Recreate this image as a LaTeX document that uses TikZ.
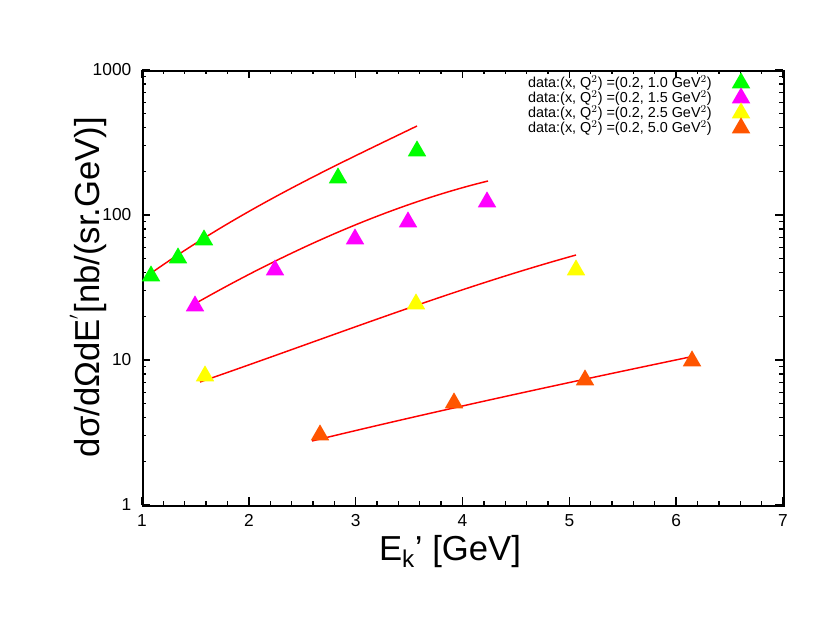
\documentclass[tikz,border=0pt]{standalone}
\usepackage{fontspec}
\setmainfont{Liberation Sans}
\usetikzlibrary{shapes.geometric}
\definecolor{cg}{RGB}{0,255,0}
\definecolor{cm}{RGB}{255,0,255}
\definecolor{cy}{RGB}{255,255,0}
\definecolor{co}{RGB}{255,85,0}
\begin{document}
\begin{tikzpicture}[x=0.75pt,y=-0.75pt,
  fitline/.style={red,line width=1.1pt},
  tri/.style={regular polygon,regular polygon sides=3,inner sep=0pt,minimum size=16pt,draw=none},
  tick/.style={line width=1pt},
  lab/.style={font=\fontsize{13}{13}\selectfont}]
\useasboundingbox (0,0) rectangle (830,642);
% ticks
\foreach \i in {1,...,7}{
  \pgfmathsetmacro\xx{142+(\i-1)*106.83}
  \draw[tick] (\xx,505) -- (\xx,497);
  \draw[tick] (\xx,70) -- (\xx,78);
  \node[lab,anchor=north] (xl\i) at (\xx,510) {\i};
}
\foreach \i in {0,...,29}{
  \pgfmathsetmacro\xx{142+\i*106.83/5}
  \draw[tick] (\xx,505) -- (\xx,501);
  \draw[tick] (\xx,70) -- (\xx,74);
}
\foreach \d/\t in {0/1,1/10,2/100,3/1000}{
  \pgfmathsetmacro\yy{505-145*\d}
  \draw[tick] (142,\yy) -- (150,\yy);
  \draw[tick] (783,\yy) -- (775,\yy);
  \node[lab,anchor=east] (yl\d) at (136,\yy) {\t};
}
\foreach \d in {0,1,2}{
  \foreach \m in {2,...,9}{
    \pgfmathsetmacro\yy{505-145*(\d+ln(\m)/ln(10))}
    \draw[tick] (142,\yy) -- (146,\yy);
    \draw[tick] (783,\yy) -- (779,\yy);
  }
}
\node[draw,line width=1.3pt,minimum width=480.75pt,minimum height=326.25pt,anchor=north west,inner sep=0pt] (frame) at (142,70) {};
% curves
\draw[fitline] (147,276) .. controls (240,210) and (330,168) .. (417,126);
\draw[fitline] (198,302) .. controls (290,250) and (390,205) .. (488,181);
\draw[fitline] (200,382) .. controls (330,337) and (450,290) .. (576,255);
\draw[fitline] (312,441) .. controls (440,410) and (570,382) .. (690,357);
% points
\foreach \p [count=\k] in {(151,276),(178,258),(204,240),(338,178),(417,151)} \node[tri,fill=cg] (g\k) at \p {};
\foreach \p [count=\k] in {(195,306),(275,270),(355,239),(408,222),(487,202)} \node[tri,fill=cm] (m\k) at \p {};
\foreach \p [count=\k] in {(205,376),(416,304),(576,270)} \node[tri,fill=cy] (y\k) at \p {};
\foreach \p [count=\k] in {(320,435),(454,403),(585,380),(692,361)} \node[tri,fill=co] (o\k) at \p {};
% legend
\foreach \c/\q [count=\k] in {cg/1.0,cm/1.5,cy/2.5,co/5.0}{
  \pgfmathsetmacro\yy{68+\k*15}
  \node[anchor=east,font=\fontsize{10.8}{10.8}\selectfont,inner sep=0pt] (leg\k) at (712,\yy) {data:(x, Q$^2$) =(0.2, \q\ GeV$^2$)};
  \node[tri,fill=\c] (lt\k) at (741,\yy) {};
}
\node[font=\fontsize{26}{26}\selectfont,rotate=90] (ylab) at (88,287) {dσ/dΩdE$^{'}$[nb/(sr.GeV)]};
\node[font=\fontsize{26}{26}\selectfont] (xlab) at (450,552) {E$_{\mathrm{k}}$' [GeV]};
\end{tikzpicture}
\end{document}
